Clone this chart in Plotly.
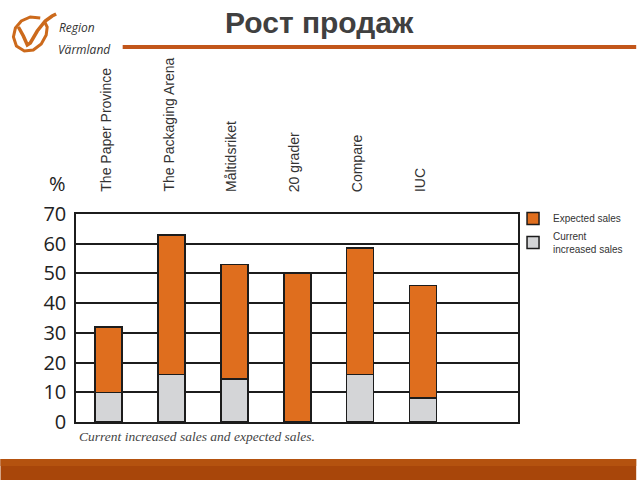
import plotly.graph_objects as go

categories = ["The Paper Province", "The Packaging Arena", "Måltidsriket",
              "20 grader", "Compare", "IUC"]
current_sales = [10, 16, 14.5, 0, 16, 8]
expected_sales = [22, 47, 38.5, 50, 42.5, 38]
y_ticks = [0, 10, 20, 30, 40, 50, 60, 70]

title_text = "Рост продаж"
caption_text = "Current increased sales and expected sales."

ORANGE = "#DF6E1E"
GREY = "#D4D5D7"
EDGE = "#1c1c1c"
LOGO = "#CC6A1C"

# plot area in pixels
L, R, T, B = 76, 521, 214, 422
W, H = 640, 480


def px(x):
    return (x - L) / (R - L)


def py(y):
    return (B - y) / (B - T)


fig = go.Figure()
fig.add_trace(go.Bar(
    x=categories, y=current_sales, name="Current<br>increased sales",
    marker=dict(color=GREY, line=dict(color=EDGE, width=1.5)), width=0.43))
fig.add_trace(go.Bar(
    x=categories, y=expected_sales, name="Expected sales",
    marker=dict(color=ORANGE, line=dict(color=EDGE, width=1.5)), width=0.43))

annotations = []
for c in categories:
    annotations.append(dict(
        x=c, xref="x", xshift=-3, y=py(194), yref="paper", text=c, showarrow=False,
        textangle=-90, xanchor="center", yanchor="bottom",
        font=dict(family="Liberation Sans", size=14, color="#333333")))

annotations.append(dict(
    x=px(47), y=py(199), xref="paper", yref="paper", text="%", showarrow=False,
    xanchor="left", yanchor="bottom",
    font=dict(family="Open Sans", size=20, color="#222222")))

annotations.append(dict(
    x=px(77), y=py(436), xref="paper", yref="paper",
    text="<i>" + caption_text + "</i>", showarrow=False,
    xanchor="left", yanchor="middle",
    font=dict(family="Liberation Serif", size=13.5, color="#444444")))

annotations.append(dict(
    x=px(321), y=py(22), xref="paper", yref="paper", text="<b>" + title_text + "</b>",
    showarrow=False, xanchor="center", yanchor="middle",
    font=dict(family="Liberation Sans", size=30, color="#404040")))

annotations.append(dict(
    x=px(57), y=py(38), xref="paper", yref="paper", text="<i>Region</i>",
    showarrow=False, xanchor="left", yanchor="bottom",
    font=dict(family="Open Sans", size=12, color="#333333")))
annotations.append(dict(
    x=px(56), y=py(39), xref="paper", yref="paper", text="<i>Värmland</i>",
    showarrow=False, xanchor="left", yanchor="top",
    font=dict(family="Open Sans", size=12, color="#333333")))

shapes = []
# header line
shapes.append(dict(type="line", xref="paper", yref="paper",
                   x0=px(123), x1=px(640), y0=py(47), y1=py(47),
                   line=dict(color="#C2561A", width=4)))
# bottom band
shapes.append(dict(type="rect", xref="paper", yref="paper",
                   x0=px(0), x1=px(640), y0=py(459), y1=py(481),
                   fillcolor="#A8460A", line=dict(width=0)))
shapes.append(dict(type="rect", xref="paper", yref="paper",
                   x0=px(0), x1=px(640), y0=py(459), y1=py(466),
                   fillcolor="#B4520F", line=dict(width=0)))


def path(points, close=False):
    s = "M " + " L ".join(f"{px(a):.5f},{py(b):.5f}" for a, b in points)
    return s + (" Z" if close else "")


# logo ring (open, tilted)
shapes.append(dict(type="path", xref="paper", yref="paper",
                   path=path([(40, 18), (30, 17), (21, 21), (15, 28), (13, 37),
                              (16, 46), (24, 51), (33, 50), (41, 44), (46, 35),
                              (47, 27), (44, 21)]),
                   line=dict(color=LOGO, width=3)))
# check / swoosh
shapes.append(dict(type="path", xref="paper", yref="paper",
                   path=path([(18, 27), (23, 36), (27, 45), (30, 43), (37, 31),
                              (45, 21), (52, 16), (56, 14)]),
                   line=dict(color=LOGO, width=3.5)))

fig.update_layout(
    width=W, height=H,
    margin=dict(l=L, r=W - R, t=T, b=H - B),
    paper_bgcolor="white", plot_bgcolor="white",
    barmode="stack",
    font=dict(family="Liberation Sans"),
    showlegend=True,
    legend=dict(x=px(516), y=py(204), xanchor="left", yanchor="top",
                traceorder="reversed", bgcolor="rgba(0,0,0,0)",
                font=dict(family="Liberation Sans", size=10, color="#333333"),
                tracegroupgap=2),
    xaxis=dict(range=[-0.52, 6.51], showticklabels=False, ticks="",
               showgrid=False, showline=True, mirror=True,
               linecolor=EDGE, linewidth=1.5, fixedrange=True),
    yaxis=dict(range=[0, 70], tickvals=y_ticks, showgrid=True,
               gridcolor=EDGE, gridwidth=1.5, zeroline=False,
               showline=True, mirror=True, linecolor=EDGE, linewidth=1.5,
               ticks="outside", ticklen=4, tickcolor="rgba(0,0,0,0)",
               tickfont=dict(family="Open Sans", size=20, color="#222222"),
               fixedrange=True),
    annotations=annotations,
    shapes=shapes,
)

fig.write_html("out.html", config={"displayModeBar": False},
               post_script="document.body.style.margin='0';document.body.style.overflow='hidden';")
